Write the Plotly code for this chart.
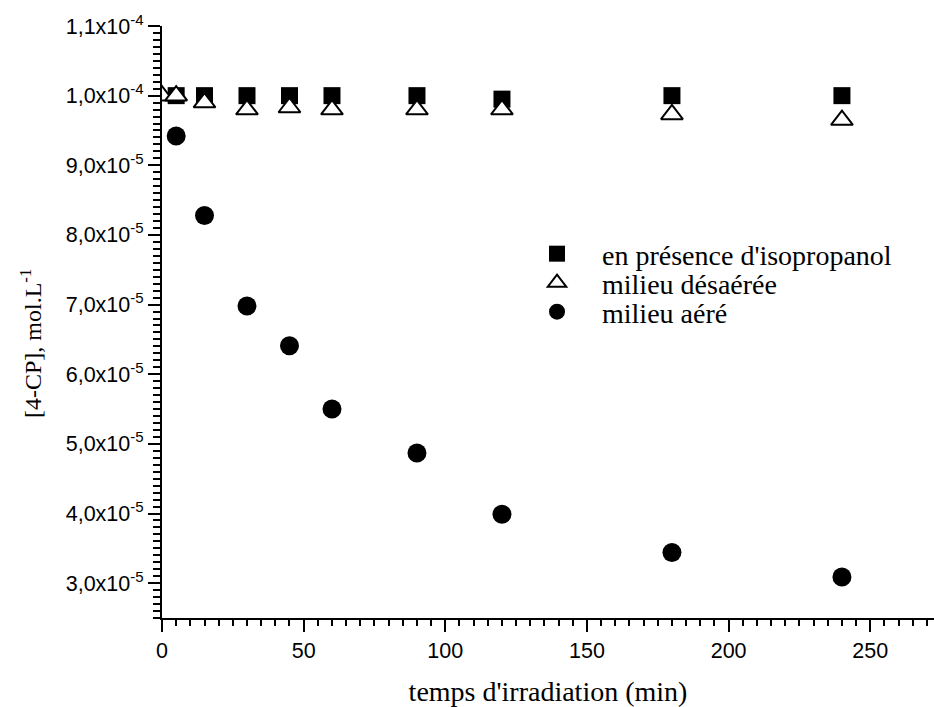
import plotly.graph_objects as go

temps_carre = [5, 15, 30, 45, 60, 90, 120, 180, 240]
isopropanol = [1.0e-4, 1.0e-4, 1.0e-4, 1.0e-4, 1.0e-4, 1.0e-4, 0.995e-4, 1.0e-4, 1.0e-4]

temps_tri = [0, 5, 15, 30, 45, 60, 90, 120, 180, 240]
desaeree = [1.0e-4, 1.0e-4, 0.99e-4, 0.98e-4, 0.983e-4, 0.98e-4, 0.98e-4, 0.98e-4, 0.973e-4, 0.965e-4]

temps_cercle = [5, 15, 30, 45, 60, 90, 120, 180, 240]
aere = [9.42e-5, 8.28e-5, 6.98e-5, 6.41e-5, 5.50e-5, 4.87e-5, 3.99e-5, 3.44e-5, 3.09e-5]

y_tickvals = [3e-5, 4e-5, 5e-5, 6e-5, 7e-5, 8e-5, 9e-5, 1.0e-4, 1.1e-4]
y_ticktext = ["3,0x10<sup>-5</sup>", "4,0x10<sup>-5</sup>", "5,0x10<sup>-5</sup>",
              "6,0x10<sup>-5</sup>", "7,0x10<sup>-5</sup>", "8,0x10<sup>-5</sup>",
              "9,0x10<sup>-5</sup>", "1,0x10<sup>-4</sup>", "1,1x10<sup>-4</sup>"]
x_tickvals = [0, 50, 100, 150, 200, 250]

serif = "Liberation Serif, Times New Roman, serif"
sans = "Liberation Sans, Arial, sans-serif"

fig = go.Figure()
fig.add_trace(go.Scatter(
    x=temps_carre, y=isopropanol, mode="markers", name="en présence d'isopropanol",
    legend="legend",
    marker=dict(symbol="square", size=17, color="black", line=dict(width=0))))
fig.add_trace(go.Scatter(
    x=temps_tri, y=desaeree, mode="markers", name="milieu désaérée",
    legend="legend2",
    marker=dict(symbol="triangle-up", size=19, color="white", line=dict(width=2, color="black"))))
fig.add_trace(go.Scatter(
    x=temps_cercle, y=aere, mode="markers", name="milieu aéré",
    legend="legend3",
    marker=dict(symbol="circle", size=19, color="black", line=dict(width=0))))

leg_common = dict(xanchor="left", yanchor="middle",
                  font=dict(family=serif, size=28, color="black"),
                  bgcolor="rgba(0,0,0,0)", itemwidth=80, borderwidth=0)

fig.update_layout(
    width=934, height=707,
    margin=dict(l=162, r=0, t=26, b=89),
    paper_bgcolor="white", plot_bgcolor="white",
    showlegend=True,
    legend=dict(x=0.4534, y=0.6149, **leg_common),
    legend2=dict(x=0.4534, y=0.5659, **leg_common),
    legend3=dict(x=0.4534, y=0.5169, **leg_common),
    xaxis=dict(
        range=[0, 272.5], tickmode="array", tickvals=x_tickvals,
        showline=True, linecolor="black", linewidth=2,
        ticks="outside", ticklen=12, tickwidth=2, tickcolor="black",
        showgrid=False, zeroline=False,
        tickfont=dict(family=sans, size=21.5, color="black"),
        minor=dict(tickmode="linear", tick0=0, dtick=5, ticks="outside", ticklen=6,
                   tickwidth=2, tickcolor="black", showgrid=False),
        title=dict(text="temps d'irradiation (min)", font=dict(family=serif, size=28, color="black"),
                   standoff=22),
    ),
    yaxis=dict(
        range=[2.5e-5, 1.1e-4], tickmode="array", tickvals=y_tickvals, ticktext=y_ticktext,
        showline=True, linecolor="black", linewidth=2,
        ticks="outside", ticklen=12, tickwidth=2, tickcolor="black",
        showgrid=False, zeroline=False,
        tickfont=dict(family=sans, size=21.5, color="black"),
        minor=dict(tickmode="linear", tick0=0, dtick=1e-6, ticks="outside", ticklen=7,
                   tickwidth=2, tickcolor="black", showgrid=False),
    ),
    annotations=[dict(
        text="[4-CP], mol.L<sup>-1</sup>", xref="paper", yref="paper",
        x=-0.1697, y=0.4645, xanchor="center", yanchor="middle", textangle=-90,
        showarrow=False, font=dict(family=serif, size=24, color="black"))],
)

fig.write_html("out.html",
               config={"displayModeBar": False},
               post_script="document.body.style.margin='0';document.body.style.overflow='hidden';")
